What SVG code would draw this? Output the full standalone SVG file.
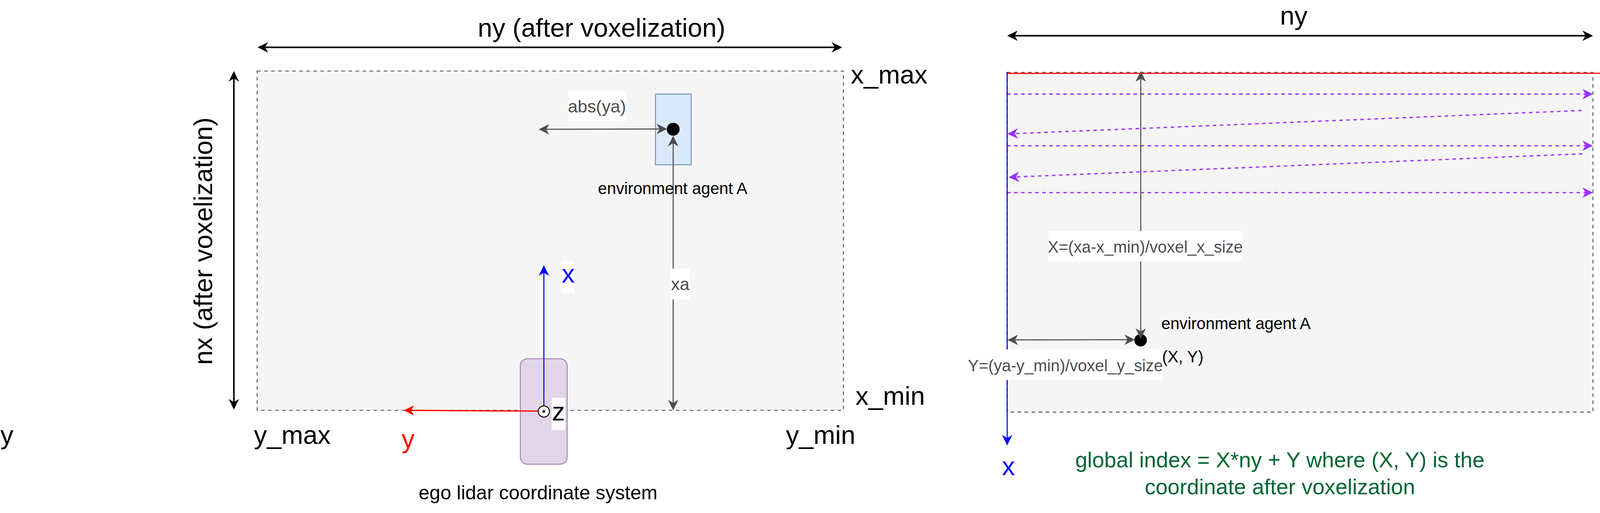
<svg xmlns="http://www.w3.org/2000/svg" width="4290" height="1314" viewBox="0 0 4290 1314">
<style>
text{font-family:"Liberation Sans",Arial,Helvetica,sans-serif;}
.big{font-size:66.7px;fill:#000;}
.mid{font-size:50px;fill:#000;}
.sm{font-size:41.7px;fill:#000;}
.gl{font-size:41.7px;fill:#4d4d4d;}
.gl2{font-size:44.5px;fill:#4d4d4d;}
.grid{fill:#f5f5f5;stroke:#666666;stroke-width:2.7;stroke-dasharray:9 9;}
.bg{fill:#ffffff;stroke:none;}
.blk{stroke:#000;fill:none;stroke-width:4;}
.gry{stroke:#4d4d4d;fill:none;stroke-width:2.7;}
.red{stroke:#ff0000;fill:none;stroke-width:3.2;}
.blu{stroke:#0000ff;fill:none;stroke-width:2.7;}
.pur{stroke:#9933ff;fill:none;stroke-width:3.3;stroke-dasharray:9 9;}
</style>
<defs>
<marker id="aBlk" viewBox="0 -14 28 28" refX="8" refY="0" markerWidth="28" markerHeight="28" markerUnits="userSpaceOnUse" orient="auto-start-reverse"><path d="M0,-13.3 L27,0 L0,13.3 L8,0 Z" fill="#000"/></marker>
<marker id="aGry" viewBox="0 -14 28 28" refX="8" refY="0" markerWidth="28" markerHeight="28" markerUnits="userSpaceOnUse" orient="auto-start-reverse"><path d="M0,-13.3 L27,0 L0,13.3 L8,0 Z" fill="#4d4d4d"/></marker>
<marker id="aRed" viewBox="0 -14 28 28" refX="8" refY="0" markerWidth="28" markerHeight="28" markerUnits="userSpaceOnUse" orient="auto-start-reverse"><path d="M0,-13.3 L27,0 L0,13.3 L8,0 Z" fill="#ff0000"/></marker>
<marker id="aBlu" viewBox="0 -14 28 28" refX="8" refY="0" markerWidth="28" markerHeight="28" markerUnits="userSpaceOnUse" orient="auto-start-reverse"><path d="M0,-13.3 L27,0 L0,13.3 L8,0 Z" fill="#0000ff"/></marker>
<marker id="aPur" viewBox="0 -14 28 28" refX="8" refY="0" markerWidth="28" markerHeight="28" markerUnits="userSpaceOnUse" orient="auto-start-reverse"><path d="M0,-13.3 L27,0 L0,13.3 L8,0 Z" fill="#9933ff"/></marker>
</defs>

<!-- LEFT PANEL -->
<g id="left-grid"><rect class="grid" x="658.3" y="182" width="1501" height="869"/></g>
<g id="left-agent-box"><rect x="1678" y="241" width="91.5" height="181" fill="#dae8fc" stroke="#6c8ebf" stroke-width="2.3"/></g>
<g id="ego-box"><rect x="1332" y="919" width="120" height="270" rx="18" ry="18" fill="#e1d5e7" stroke="#9673a6" stroke-width="2"/></g>
<g id="left-agent-dot"><circle cx="1723.3" cy="331" r="16.5" fill="#000"/></g>

<!-- RIGHT PANEL -->
<g id="right-grid"><rect class="grid" x="2578" y="185.7" width="1500" height="870"/></g>
<g id="right-agent-dot"><circle cx="2920" cy="871.5" r="16" fill="#000"/></g>

<g id="connectors">
  <!-- left -->
  <line class="blk" x1="678.3" y1="121.3" x2="2137" y2="121.3" marker-start="url(#aBlk)" marker-end="url(#aBlk)"/>
  <line class="blk" x1="598.7" y1="1030" x2="598.7" y2="201" marker-start="url(#aBlk)" marker-end="url(#aBlk)"/>
  <line class="gry" x1="1398" y1="331.2" x2="1688.7" y2="330.4" marker-start="url(#aGry)" marker-end="url(#aGry)"/>
  <line class="gry" x1="1723.3" y1="1032" x2="1723.3" y2="366.7" marker-start="url(#aGry)" marker-end="url(#aGry)"/>
  <line class="blu" x1="1392.3" y1="1040" x2="1392.3" y2="698.6" marker-end="url(#aBlu)"/>
  <line class="red" x1="1378" y1="1053" x2="1052.3" y2="1051.2" marker-end="url(#aRed)"/>
  <!-- right -->
  <line class="blk" x1="2597.4" y1="91.5" x2="4059" y2="91.5" marker-start="url(#aBlk)" marker-end="url(#aBlk)"/>
  <line class="blk" style="stroke-width:3" x1="4138.7" y1="1031" x2="4138.7" y2="201.3" marker-start="url(#aBlk)" marker-end="url(#aBlk)"/>
  <line class="pur" x1="2578" y1="241" x2="4059" y2="241" marker-end="url(#aPur)"/>
  <line class="pur" x1="4049" y1="283" x2="2598" y2="342.2" marker-end="url(#aPur)"/>
  <line class="pur" x1="2578" y1="373.3" x2="4059" y2="373.3" marker-end="url(#aPur)"/>
  <line class="pur" x1="4051" y1="394" x2="2601" y2="453.2" marker-end="url(#aPur)"/>
  <line class="pur" x1="2578" y1="493.3" x2="4059" y2="493.3" marker-end="url(#aPur)"/>
  <line class="red" style="stroke-width:2.8" x1="2578" y1="188" x2="4209.3" y2="187.5" marker-end="url(#aRed)"/>
  <line class="blu" x1="2578.4" y1="185" x2="2578.4" y2="1122" marker-end="url(#aBlu)"/>
  <line class="gry" x1="2920.3" y1="849" x2="2920.3" y2="201.3" marker-start="url(#aGry)" marker-end="url(#aGry)"/>
  <line class="gry" x1="2598.3" y1="870.6" x2="2886.6" y2="870.1" marker-start="url(#aGry)" marker-end="url(#aGry)"/>
</g>

<g id="origin">
  <circle cx="1392.3" cy="1054" r="14.3" fill="#ffffff" stroke="#000" stroke-width="2.4"/>
  <circle cx="1392.3" cy="1054" r="3.4" fill="#000"/>
</g>

<!-- LEFT LABELS -->
<g id="label-ny-left"><text class="big" x="1540" y="94" text-anchor="middle">ny (after voxelization)</text></g>
<g id="label-nx-left"><text class="big" transform="translate(543,617.5) rotate(-90)" text-anchor="middle">nx (after voxelization)</text></g>
<g id="label-xmax"><text class="big" x="2178" y="214">x_max</text></g>
<g id="label-xmin"><text class="big" x="2190" y="1037">x_min</text></g>
<g id="label-ymax"><text class="big" x="650" y="1137">y_max</text></g>
<g id="label-ymin"><text class="big" x="2012" y="1137">y_min</text></g>
<g id="label-y-far"><text class="big" x="1" y="1137">y</text></g>
<g id="label-y-red-left"><text class="big" x="1028" y="1147" style="fill:#ff0000">y</text></g>
<g id="label-x-blue-left"><rect class="bg" x="1436" y="668" width="35" height="83"/><text class="big" x="1438" y="724" style="fill:#0000ff">x</text></g>
<g id="label-z"><rect class="bg" x="1412.3" y="1019" width="34.4" height="82.7"/><text class="big" x="1413" y="1076.5">z</text></g>
<g id="label-absya"><rect class="bg" x="1454" y="232" width="148.7" height="78.7"/><text class="gl2" x="1528.3" y="288.3" text-anchor="middle">abs(ya)</text></g>
<g id="label-agent-left"><text class="sm" x="1722" y="496.7" text-anchor="middle">environment agent A</text></g>
<g id="label-xa"><rect class="bg" x="1717" y="688.3" width="49" height="78.4"/><text class="gl2" x="1741.5" y="743.3" text-anchor="middle">xa</text></g>
<g id="label-ego"><text class="mid" x="1377.5" y="1279" text-anchor="middle">ego lidar coordinate system</text></g>

<!-- RIGHT LABELS -->
<g id="label-ny-right"><text class="big" x="3312" y="62.5" text-anchor="middle">ny</text></g>
<g id="label-nx-right"><text class="big" x="4163" y="574">nx</text></g>
<g id="label-y-red-right"><text class="big" x="4246" y="206" style="fill:#ff0000">y</text></g>
<g id="label-x-blue-right"><text class="big" x="2565" y="1216.7" style="fill:#0000ff">x</text></g>
<g id="label-X"><rect class="bg" x="2684" y="592" width="496" height="78"/><text class="gl" x="2932" y="647" text-anchor="middle">X=(xa-x_min)/voxel_x_size</text></g>
<g id="label-Y"><rect class="bg" x="2478" y="895" width="499" height="78"/><text class="gl" x="2727.5" y="950.7" text-anchor="middle">Y=(ya-y_min)/voxel_y_size</text></g>
<g id="label-agent-right"><text class="sm" x="2973" y="843.3">environment agent A</text></g>
<g id="label-XY"><text class="sm" x="2975" y="928">(X, Y)</text></g>
<g id="label-global"><text x="3276.5" y="1197.3" text-anchor="middle" style="font-size:55.6px;fill:#006633">global index = X*ny + Y where (X, Y) is the</text><text x="3276.5" y="1265.7" text-anchor="middle" style="font-size:55.6px;fill:#006633">coordinate after voxelization</text></g>
</svg>
